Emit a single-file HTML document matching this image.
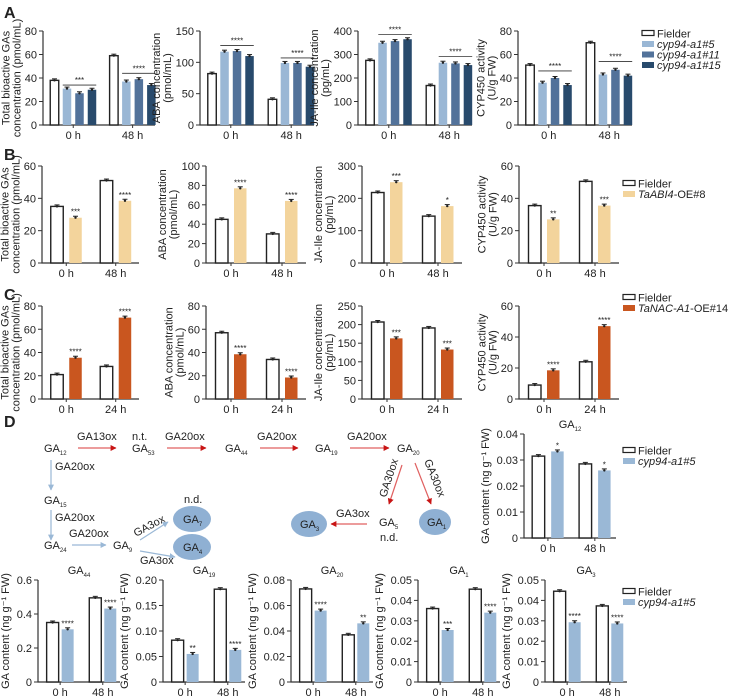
<!DOCTYPE html>
<html><head><meta charset="utf-8">
<style>
body{margin:0;background:#fff;}
svg{display:block;font-family:"Liberation Sans",Arial,sans-serif;}
text{fill:#222;}
</style></head>
<body>
<svg id="fig" width="729" height="700" viewBox="0 0 729 700" xmlns="http://www.w3.org/2000/svg">
<defs>
<marker id="mr" viewBox="0 0 10 10" refX="9" refY="5" markerWidth="5" markerHeight="5" orient="auto"><path d="M0,0 L10,5 L0,10 z" fill="#c81414"/></marker>
<marker id="mb" viewBox="0 0 10 10" refX="9" refY="5" markerWidth="5" markerHeight="5" orient="auto"><path d="M0,0 L10,5 L0,10 z" fill="#9ab8d6"/></marker>
</defs>
<g id="charts"></g>
<g id="pathway" font-size="11">
<text x="4" y="427" font-size="16" font-weight="bold">D</text>
<text x="44" y="452">GA<tspan font-size="6" dy="3">12</tspan></text>
<line x1="78" y1="448" x2="116" y2="448" stroke="#e06060" stroke-width="1.2" marker-end="url(#mr)"/>
<text x="77" y="440">GA13ox</text>
<text x="132" y="440">n.t.</text>
<text x="132" y="452">GA<tspan font-size="6" dy="3">53</tspan></text>
<line x1="167" y1="448" x2="206" y2="448" stroke="#e06060" stroke-width="1.2" marker-end="url(#mr)"/>
<text x="165" y="440">GA20ox</text>
<text x="225" y="452">GA<tspan font-size="6" dy="3">44</tspan></text>
<line x1="260" y1="448" x2="298" y2="448" stroke="#e06060" stroke-width="1.2" marker-end="url(#mr)"/>
<text x="257" y="440">GA20ox</text>
<text x="315" y="452">GA<tspan font-size="6" dy="3">19</tspan></text>
<line x1="350" y1="448" x2="389" y2="448" stroke="#e06060" stroke-width="1.2" marker-end="url(#mr)"/>
<text x="347" y="440">GA20ox</text>
<text x="397" y="452">GA<tspan font-size="6" dy="3">20</tspan></text>
<line x1="402" y1="465" x2="389" y2="504" stroke="#e06060" stroke-width="1.2" marker-end="url(#mr)"/>
<text transform="translate(386,498) rotate(-72)">GA30ox</text>
<line x1="415" y1="463" x2="431" y2="504" stroke="#e06060" stroke-width="1.2" marker-end="url(#mr)"/>
<text transform="translate(424,461) rotate(68)">GA30ox</text>
<ellipse cx="435" cy="522" rx="16" ry="13" fill="#8fb0d3"/>
<text x="427" y="526">GA<tspan font-size="6" dy="3">1</tspan></text>
<text x="379" y="526">GA<tspan font-size="6" dy="3">5</tspan></text>
<text x="380" y="541">n.d.</text>
<line x1="367" y1="524" x2="331" y2="524" stroke="#e06060" stroke-width="1.2" marker-end="url(#mr)"/>
<text x="336" y="517">GA3ox</text>
<ellipse cx="309" cy="524" rx="18" ry="13" fill="#8fb0d3"/>
<text x="300" y="528">GA<tspan font-size="6" dy="3">3</tspan></text>
<line x1="51" y1="460" x2="51" y2="490" stroke="#9ab8d6" stroke-width="1.2" marker-end="url(#mb)"/>
<text x="55" y="470">GA20ox</text>
<text x="44" y="504">GA<tspan font-size="6" dy="3">15</tspan></text>
<line x1="51" y1="510" x2="51" y2="540" stroke="#9ab8d6" stroke-width="1.2" marker-end="url(#mb)"/>
<text x="55" y="521">GA20ox</text>
<text x="44" y="549">GA<tspan font-size="6" dy="3">24</tspan></text>
<line x1="72" y1="545" x2="106" y2="545" stroke="#9ab8d6" stroke-width="1.2" marker-end="url(#mb)"/>
<text x="69" y="537">GA20ox</text>
<text x="113" y="549">GA<tspan font-size="6" dy="3">9</tspan></text>
<line x1="140" y1="540" x2="168" y2="522" stroke="#9ab8d6" stroke-width="1.2" marker-end="url(#mb)"/>
<text transform="translate(136,537) rotate(-28)">GA3ox</text>
<line x1="140" y1="551" x2="175" y2="557" stroke="#9ab8d6" stroke-width="1.2" marker-end="url(#mb)"/>
<text x="140" y="564">GA3ox</text>
<text x="184" y="503">n.d.</text>
<ellipse cx="192" cy="519" rx="19" ry="13" fill="#8fb0d3"/>
<text x="183" y="523">GA<tspan font-size="6" dy="3">7</tspan></text>
<ellipse cx="192" cy="547" rx="19" ry="13" fill="#8fb0d3"/>
<text x="183" y="551">GA<tspan font-size="6" dy="3">4</tspan></text>
</g>
</svg>
<script>
// ---- data arrays ----
const groupsA = ['0 h','48 h'];
const groupsC = ['0 h','24 h'];
const A1 = [[38,31,27,30],[59,37,39,34]];
const A2 = [[82,117,118,110],[41,99,99,93]];
const A3 = [[275,350,357,365],[168,265,262,255]];
const A4 = [[51,36,40,34],[70,43,47,42]];
const A1sig = ['***','****']; const A1line = [34,44];
const A2sig = ['****','****']; const A2line = [127,107];
const A3sig = ['****','****']; const A3line = [385,292];
const A4sig = ['****','****']; const A4line = [46,54];
const B1 = [[35,28],[51,38.5]];
const B2 = [[45,77],[30,64]];
const B3 = [[218,250],[145,176]];
const B4 = [[35.5,27],[50.5,35.5]];
const B1sig = ['***','****']; const B2sig = ['****','****']; const B3sig = ['***','*']; const B4sig = ['**','***'];
const C1 = [[21,35.5],[28,70]];
const C2 = [[57,38.5],[34,18.5]];
const C3 = [[207,163],[191,133]];
const C4 = [[9,18.5],[24,47]];
const C1sig = ['****','****']; const C2sig = ['****','****']; const C3sig = ['***','***']; const C4sig = ['****','****'];
const GA12 = [[0.0315,0.0333],[0.0285,0.026]]; const GA12sig = ['*','*'];
const GA44 = [[0.35,0.31],[0.495,0.432]]; const GA44sig = ['****','****'];
const GA19 = [[0.082,0.055],[0.182,0.063]]; const GA19sig = ['**','****'];
const GA20 = [[0.073,0.056],[0.037,0.046]]; const GA20sig = ['****','**'];
const GA1 = [[0.036,0.0255],[0.0455,0.034]]; const GA1sig = ['***','****'];
const GA3 = [[0.0445,0.0293],[0.0373,0.0287]]; const GA3sig = ['****','****'];
const ticks80 = [0,20,40,60,80], ticks150=[0,50,100,150], ticks400=[0,100,200,300,400];
const ticks60 = [0,20,40,60], ticks100=[0,20,40,60,80,100], ticks300=[0,100,200,300], ticks250=[0,50,100,150,200,250];
const ticksG04 = [0,0.01,0.02,0.03,0.04], ticksG05=[0,0.01,0.02,0.03,0.04,0.05];
const ticksG6 = [0,0.2,0.4,0.6], ticksG2=[0,0.05,0.10,0.15,0.20], ticksG08=[0,0.02,0.04,0.06,0.08];
const labG04 = ['0','0.01','0.02','0.03','0.04'], labG05=['0','0.01','0.02','0.03','0.04','0.05'];
const labG6 = ['0','0.2','0.4','0.6'], labG2=['0','0.05','0.10','0.15','0.20'], labG08=['0','0.02','0.04','0.06','0.08'];
const legA = ['Fielder','cyp94-a1#5','cyp94-a1#11','cyp94-a1#15'];
const legB = ['Fielder','TaABI4-OE#8'];
const legC = ['Fielder','TaNAC-A1-OE#14'];
const legD = ['Fielder','cyp94-a1#5'];

const colA = ['#fff','#9ab7d5','#52729a','#284a6c'];
const colB = ['#fff','#f3d49c'];
const colC = ['#fff','#c9561f'];
const colD = ['#fff','#9ab8d6'];
const NS='http://www.w3.org/2000/svg';
const root=document.getElementById('charts');
function el(tag,attrs,parent,txt){const e=document.createElementNS(NS,tag);for(const k in attrs)e.setAttribute(k,attrs[k]);if(txt!==undefined)e.textContent=txt;(parent||root).appendChild(e);return e;}

function chart(o){
  const g=el('g',{});
  
  
  const max=o.ticks[o.ticks.length-1];
  const y=v=>o.bot-v/max*(o.bot-o.top);
  const ax=el('path',{d:`M${o.x},${o.top} V${o.bot} H${o.x+o.w}`,stroke:'#333','stroke-width':1.2,fill:'none'},g);
  
  
  let maxLen=0;
  o.ticks.forEach((t,i)=>{
    const ty=y(t);
    el('line',{x1:o.x-4,x2:o.x,y1:ty,y2:ty,stroke:'#333','stroke-width':1},g);
    const lab=o.tickLabels?o.tickLabels[i]:String(t);
    maxLen=Math.max(maxLen,lab.length);
    const tl=el('text',{x:o.x-6,y:ty+4,'text-anchor':'end','font-size':11},g,lab);
    
    
  });
  const n=o.data[0].length;
  o.data.forEach((vals,gi)=>{
    const c=o.x+o.w*o.gc[gi];
    const span=(n-1)*o.pitch+o.bw;
    const s0=c-span/2;
    vals.forEach((v,si)=>{
      const bx=s0+si*o.pitch;
      const r=el('rect',{x:bx,y:y(v),width:o.bw,height:o.bot-y(v),fill:o.colors[si],stroke:si===0?'#222':'none','stroke-width':1.4},g);
      
      
      const cx=bx+o.bw/2;
      el('line',{x1:cx-2.5,x2:cx+2.5,y1:y(v)-1.5,y2:y(v)-1.5,stroke:'#222','stroke-width':1},g);
      el('circle',{cx:cx,cy:y(v),r:1.2,fill:'#222'},g);
      if(o.sig && !o.line && si>0){
        const st=el('text',{x:cx,y:y(v)-3,'text-anchor':'middle','font-size':8},g,o.sig[gi]);
        
        
      }
    });
    if(o.line){
      const ly=y(o.line[gi]);
      el('line',{x1:s0+o.pitch,x2:s0+span,y1:ly,y2:ly,stroke:'#333','stroke-width':0.8},g);
      const st=el('text',{x:s0+o.pitch+(span-o.pitch)/2,y:ly-2,'text-anchor':'middle','font-size':8},g,o.sig[gi]);
      
      
    }
    el('line',{x1:c,x2:c,y1:o.bot,y2:o.bot+3,stroke:'#333','stroke-width':1},g);
    const xl=el('text',{x:c,y:o.bot+14,'text-anchor':'middle','font-size':11},g,o.groups[gi]);
    
    
  });
  const off=10+maxLen*6.3;
  const mid=(o.top+o.bot)/2;
  o.ylab.forEach((t,i)=>{
    const lx=o.x-off-(o.ylab.length-1-i)*11;
    const yl=el('text',{transform:`translate(${lx},${mid}) rotate(-90)`,'text-anchor':'middle','font-size':11},g,t);
    
    
  });
  if(o.title){
    const tt=el('text',{x:o.x+o.w/2,y:o.top-6,'text-anchor':'middle','font-size':11},g);
    
    
    tt.textContent='GA';
    el('tspan',{'font-size':6,dy:3},tt,o.title);
  }
}
function legend(x,y0,labels,colors,italicIdx,name){
  const g=el('g',{});
  
  
  labels.forEach((l,i)=>{
    const y=y0+i*10.5;
    el('rect',{x:x,y:y-3.5,width:12,height:i===0?5:6,fill:colors[i],stroke:i===0?'#222':'none','stroke-width':1.2},g);
    const t=el('text',{x:x+15,y:y+3.5,'font-size':11},g);
    
    
    if(i===0){t.textContent=l;}
    else{
      const m=l.match(/^(.*?)(-OE#\d+|#\d+)$/);
      el('tspan',{'font-style':'italic'},t,m[1]);
      el('tspan',{'font-style':m[2].startsWith('#')?'italic':'normal'},t,m[2]);
    }
  });
}
function panel(ch,x,y){const t=el('text',{x:x,y:y,'font-size':16,'font-weight':'bold'},root,ch);}

const GAs=['Total bioactive GAs','concentration (pmol/mL)'];
const ABA=['ABA concentration','(pmol/mL)'];
const JA=['JA-Ile concentration','(pg/mL)'];
const CYP=['CYP450 activity','(U/g FW)'];
const GAC=['GA content (ng g\u207B\u00B9 FW)'];

panel('A',4,18); panel('B',4,160); panel('C',4,300);
// Row A
const rA={top:31,bot:125,bw:8.5,pitch:12.5,gc:[0.27,0.8],colors:colA,groups:groupsA};
chart({...rA,name:'chart-a-total-gas',x:43,w:112,ticks:ticks80,data:A1,sig:A1sig,line:A1line,ylab:GAs});
chart({...rA,name:'chart-a-aba',x:200,w:114,ticks:ticks150,data:A2,sig:A2sig,line:A2line,ylab:ABA});
chart({...rA,name:'chart-a-ja-ile',x:358,w:114,ticks:ticks400,data:A3,sig:A3sig,line:A3line,ylab:JA});
chart({...rA,name:'chart-a-cyp450',x:518,w:114,ticks:ticks80,data:A4,sig:A4sig,line:A4line,ylab:CYP});
legend(642,34,legA,colA,0,'legend-a');
// Row B
const rB={top:166,bot:263,bw:12.5,pitch:18.5,gc:[0.25,0.76],colors:colB,groups:groupsA};
chart({...rB,name:'chart-b-total-gas',x:42,w:97,ticks:ticks60,data:B1,sig:B1sig,ylab:GAs});
chart({...rB,name:'chart-b-aba',x:206,w:100,ticks:ticks100,data:B2,sig:B2sig,ylab:ABA});
chart({...rB,name:'chart-b-ja-ile',x:362,w:100,ticks:ticks300,data:B3,sig:B3sig,ylab:JA});
chart({...rB,name:'chart-b-cyp450',x:519,w:100,ticks:ticks60,data:B4,sig:B4sig,ylab:CYP});
legend(623,184,legB,colB,0,'legend-b');
// Row C
const rC={top:306,bot:399,bw:12.5,pitch:18.5,gc:[0.25,0.76],colors:colC,groups:groupsC};
chart({...rC,name:'chart-c-total-gas',x:42,w:97,ticks:ticks80,data:C1,sig:C1sig,ylab:GAs});
chart({...rC,name:'chart-c-aba',x:206,w:100,ticks:ticks80,data:C2,sig:C2sig,ylab:ABA});
chart({...rC,name:'chart-c-ja-ile',x:362,w:100,ticks:ticks250,data:C3,sig:C3sig,ylab:JA});
chart({...rC,name:'chart-c-cyp450',x:519,w:100,ticks:ticks60,data:C4,sig:C4sig,ylab:CYP});
legend(623,298,legC,colC,0,'legend-c');
// D
const rD={bw:12.5,pitch:19,gc:[0.26,0.77],colors:colD,groups:groupsA,ylab:GAC};
chart({...rD,name:'chart-d-ga12',x:524,w:92,top:434,bot:538,ticks:ticksG04,tickLabels:labG04,data:GA12,sig:GA12sig,title:'12'});
legend(623,451,legD,colD,0,'legend-d-top');
const rE={...rD,top:580,bot:682,bw:12,pitch:15,gc:[0.27,0.79],w:82};
chart({...rE,name:'chart-d-ga44',x:38,ticks:ticksG6,tickLabels:labG6,data:GA44,sig:GA44sig,title:'44'});
chart({...rE,name:'chart-d-ga19',x:163,ticks:ticksG2,tickLabels:labG2,data:GA19,sig:GA19sig,title:'19'});
chart({...rE,name:'chart-d-ga20',x:291,ticks:ticksG08,tickLabels:labG08,data:GA20,sig:GA20sig,title:'20'});
chart({...rE,name:'chart-d-ga1',x:418,ticks:ticksG05,tickLabels:labG05,data:GA1,sig:GA1sig,title:'1'});
chart({...rE,name:'chart-d-ga3',x:545,ticks:ticksG05,tickLabels:labG05,data:GA3,sig:GA3sig,title:'3'});
legend(623,592,legD,colD,0,'legend-d-bottom');
</script>
</body></html>
